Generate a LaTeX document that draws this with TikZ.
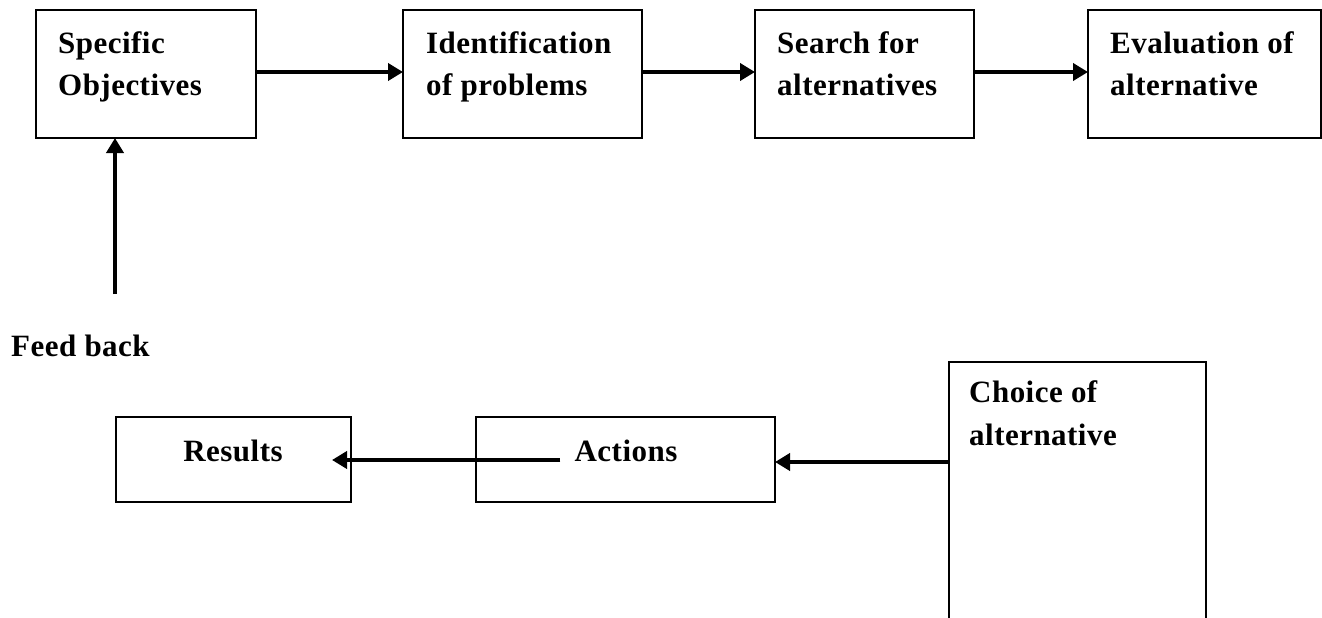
\documentclass[tikz,border=0pt]{standalone}
\usepackage{fontspec}
\setmainfont{Liberation Serif}[LetterSpace=1.5]
\usetikzlibrary{arrows.meta}

% two stacked lines whose baseline is the first line's baseline
\newcommand{\twoln}[2]{\vtop{\hbox{#1}\hbox{#2}}}

\tikzset{
  stagebox/.style={draw, line width=2.8pt, inner sep=0pt, outer sep=0pt, anchor=north west},
  lbl/.style={inner sep=0pt, font=\fontsize{31}{43}\selectfont\bfseries},
  flow/.style={line width=3.8pt, -{Triangle[length=15pt,width=17pt]}},
}

\begin{document}
\begin{tikzpicture}[x=1pt,y=-1pt]
  \clip (0,0) rectangle (1322,618);
  \fill[white] (0,0) rectangle (1322,618);

  % upper row of stages
  \node[stagebox, minimum width=220, minimum height=128] (so) at (36,10) {};
  \node[stagebox, minimum width=239, minimum height=128] (ip) at (403,10) {};
  \node[stagebox, minimum width=219, minimum height=128] (sa) at (755,10) {};
  \node[stagebox, minimum width=233, minimum height=128] (ea) at (1088,10) {};

  \node[lbl, anchor=base west] (soT) at (58,53)   {\twoln{Specific}{Objectives}};
  \node[lbl, anchor=base west] (ipT) at (426,53)  {\twoln{Identification}{of problems}};
  \node[lbl, anchor=base west] (saT) at (777,53)  {\twoln{Search for}{alternatives}};
  \node[lbl, anchor=base west] (eaT) at (1110,53) {\twoln{Evaluation of}{alternative}};

  % lower row of stages
  \node[stagebox, minimum width=257, minimum height=300] (ch) at (949,362) {};
  \node[stagebox, minimum width=299, minimum height=85] (ac) at (476,417) {};
  \node[stagebox, minimum width=235, minimum height=85] (re) at (116,417) {};

  \node[lbl, anchor=base west] (chT) at (969,402) {\twoln{Choice of}{alternative}};
  \node[lbl, anchor=base] (acT) at (626,461) {Actions};
  \node[lbl, anchor=base] (reT) at (233,461) {Results};

  \node[lbl, anchor=base west] (fbT) at (11,356) {Feed back};

  % connectors
  \coordinate (hi) at (0,72);
  \draw[flow] (so.east |- hi) -- (ip.west |- hi);
  \draw[flow] (ip.east |- hi) -- (sa.west |- hi);
  \draw[flow] (sa.east |- hi) -- (ea.west |- hi);

  \coordinate (fb) at (115,294);
  \draw[flow] (fb) -- (fb |- so.south);

  \coordinate (lo) at (0,462);
  \draw[flow] (ch.west |- lo) -- (ac.east |- lo);

  \coordinate (a0) at ([xshift=-14pt]acT.west |- 0,460);
  \coordinate (r0) at ([xshift=-19pt]re.east |- 0,460);
  \draw[flow] (a0) -- (r0);
\end{tikzpicture}
\end{document}
